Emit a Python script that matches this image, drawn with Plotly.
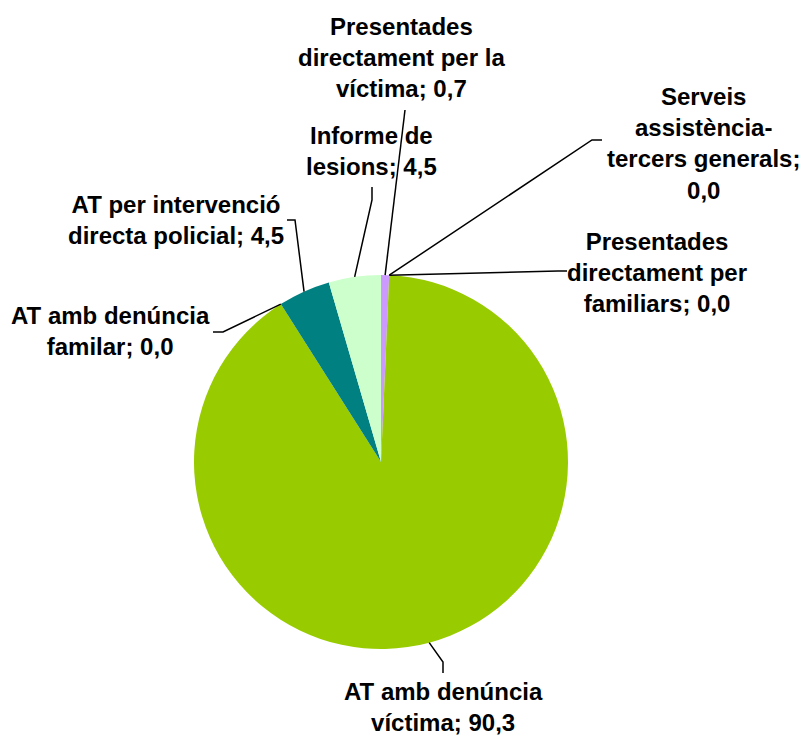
import math
import plotly.graph_objects as go

# ---- data ----
labels = [
    "Presentades directament per la víctima",
    "Serveis assistència-tercers generals",
    "Presentades directament per familiars",
    "AT amb denúncia víctima",
    "AT amb denúncia familar",
    "AT per intervenció directa policial",
    "Informe de lesions",
]
values = [0.7, 0.0, 0.0, 90.3, 0.0, 4.5, 4.5]
label_templates = [
    "Presentades<br>directament per la<br>víctima; {v}",
    "Serveis<br>assistència-<br>tercers generals;<br>{v}",
    "Presentades<br>directament per<br>familiars; {v}",
    "AT amb denúncia<br>víctima; {v}",
    "AT amb denúncia<br>familar; {v}",
    "AT per intervenció<br>directa policial; {v}",
    "Informe de<br>lesions; {v}",
]
colors = ["#CC99FF", "#9999FF", "#993366", "#99CC00", "#FFFFCC", "#008080", "#CCFFCC"]

# ---- layout (pixels) ----
W, H = 805, 738
CX, CY, R = 381, 462, 187
label_pos = [(401, 57), (703, 143), (657, 272), (443, 707), (110, 331), (176, 220), (371, 151)]
leader_pts = [
    [(405, 110)],
    [(592, 140), (602, 140)],
    [(558, 271), (567, 271)],
    [(443, 662), (443, 673)],
    [(223, 332), (213, 332)],
    [(295, 220), (287, 220)],
    [(372, 200), (372, 187)],
]

def px(x):
    return x / W

def py(y):
    return 1 - y / H

def fmt(v):
    return f"{v:.1f}".replace(".", ",")

fig = go.Figure(go.Pie(
    labels=labels,
    values=values,
    sort=False,
    direction="clockwise",
    rotation=0,
    textinfo="none",
    hoverinfo="label+value",
    marker=dict(colors=colors, line=dict(width=0)),
    domain=dict(x=[px(CX - R), px(CX + R)], y=[py(CY + R), py(CY - R)]),
    showlegend=False,
))

total = sum(values)
cum = 0.0
shapes = []
annotations = []
for i, v in enumerate(values):
    f = (cum + v / 2) / total
    cum += v
    th = 2 * math.pi * f
    ex = CX + R * math.sin(th)
    ey = CY - R * math.cos(th)
    pts = [(ex, ey)] + leader_pts[i]
    path = "M " + " L ".join(f"{px(x):.5f},{py(y):.5f}" for x, y in pts)
    shapes.append(dict(type="path", xref="paper", yref="paper", path=path,
                       line=dict(color="black", width=1.5)))
    lx, ly = label_pos[i]
    annotations.append(dict(
        x=px(lx), y=py(ly), xref="paper", yref="paper",
        xanchor="center", yanchor="middle", align="center",
        showarrow=False,
        text="<b>" + label_templates[i].format(v=fmt(v)) + "</b>",
        font=dict(family="Liberation Sans, Arial, sans-serif", size=24, color="black"),
    ))

fig.update_layout(
    width=W, height=H,
    margin=dict(l=0, r=0, t=0, b=0),
    paper_bgcolor="white",
    plot_bgcolor="white",
    shapes=shapes,
    annotations=annotations,
)

fig.write_html("out.html", config={"displayModeBar": False},
               post_script="document.body.style.margin='0';")
